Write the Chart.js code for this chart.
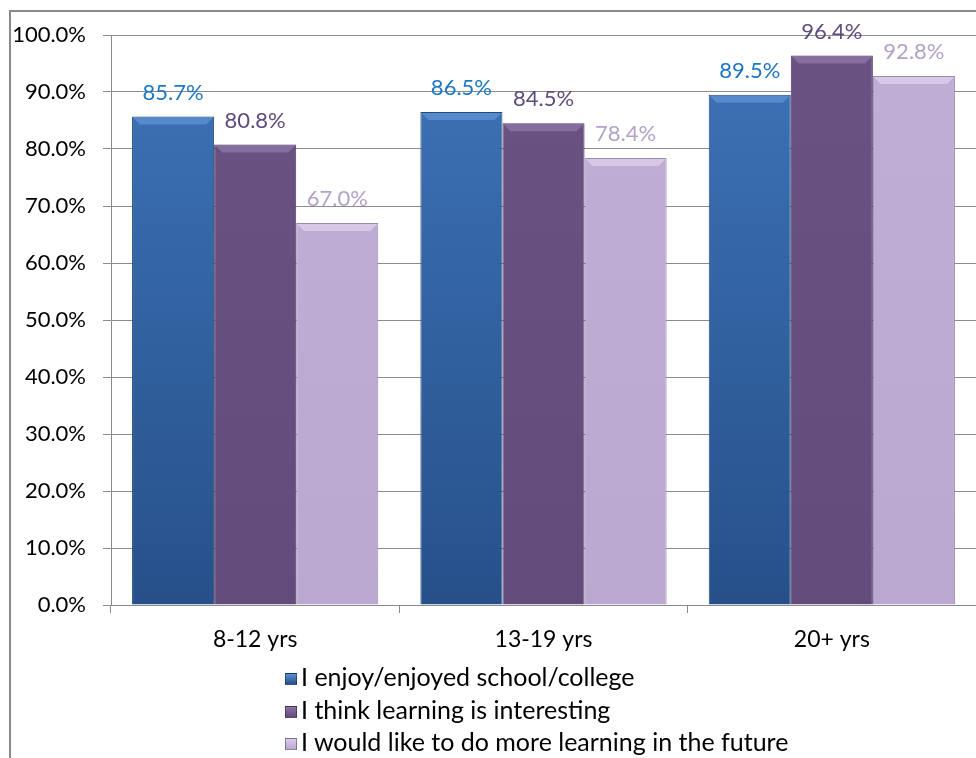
<!DOCTYPE html>
<html>
<head>
<meta charset="utf-8">
<script src="https://cdn.jsdelivr.net/npm/chart.js@4"></script>
<style>
    html, body { margin: 0; padding: 0; background: #fff; }
    body { width: 976px; height: 758px; position: relative; overflow: hidden; font-family: Lato, "Open Sans", sans-serif; }
    #frame { position: absolute; left: 9px; top: 10px; width: 1000px; height: 800px; border-left: 2px solid #8a8a8a; border-top: 2px solid #8a8a8a; }
    #chart { position: absolute; left: 0; top: 0; }
    #legend { position: absolute; left: 285px; top: 661px; }
    #legend div { height: 32.5px; line-height: 30px; font-size: 25px; color: #000; white-space: nowrap; }
    #legend span { display: inline-block; width: 12px; height: 12px; margin-right: 4px; vertical-align: 1px; border: 1px solid rgba(0,0,0,0.35); box-sizing: border-box; }
</style>
</head>
<body>
<div id="frame"></div>
<canvas id="chart" width="976" height="758"></canvas>
<div id="legend"></div>
<script>
const categories = ['8-12 yrs', '13-19 yrs', '20+ yrs'];
const seriesNames = [
    'I enjoy/enjoyed school/college',
    'I think learning is interesting',
    'I would like to do more learning in the future',
];
const enjoySchool = [85.7, 86.5, 89.5];
const learningInteresting = [80.8, 84.5, 96.4];
const moreLearning = [67.0, 78.4, 92.8];

// gradient top / bottom, label colour, top highlight
const palette = [
    { top: '#3d74b8', bottom: '#27508a', label: '#1c77c6', bevel: '#5b8fd2', edge: '#244a78' },
    { top: '#6a5283', bottom: '#634c7c', label: '#5f4b7c', bevel: '#8a72a5', edge: '#4f3d66' },
    { top: '#c0aed6', bottom: '#bba8d1', label: '#b3a2c8', bevel: '#dacdea', edge: '#9c8bb0' },
];

function vGrad(ctx, top, bottom) {
    const area = ctx.chart.chartArea;
    if (!area) {
        return top;
    }
    const g = ctx.chart.ctx.createLinearGradient(0, area.top, 0, area.bottom);
    g.addColorStop(0, top);
    g.addColorStop(1, bottom);
    return g;
}

const valueLabels = {
    id: 'valueLabels',
    afterDatasetsDraw(chart) {
        const c = chart.ctx;
        chart.data.datasets.forEach((ds, i) => {
            const meta = chart.getDatasetMeta(i);
            meta.data.forEach((bar, j) => {
                const w = bar.width;
                // bevel highlight on the bar top
                c.save();
                c.fillStyle = palette[i].bevel;
                c.globalAlpha = 0.85;
                c.beginPath();
                c.moveTo(bar.x - w / 2 + 1, bar.y + 1);
                c.lineTo(bar.x + w / 2 - 1, bar.y + 1);
                c.lineTo(bar.x + w / 2 - 8, bar.y + 8);
                c.lineTo(bar.x - w / 2 + 8, bar.y + 8);
                c.closePath();
                c.fill();
                c.restore();

                c.save();
                c.font = '22px Lato, "Open Sans", sans-serif';
                c.fillStyle = palette[i].label;
                c.textAlign = 'center';
                c.textBaseline = 'middle';
                c.fillText(ds.data[j].toFixed(1) + '%', bar.x, bar.y - 24);
                c.restore();
            });
        });
    },
};

const datasets = [enjoySchool, learningInteresting, moreLearning].map((values, i) => ({
    label: seriesNames[i],
    data: values,
    backgroundColor: (ctx) => vGrad(ctx, palette[i].top, palette[i].bottom),
    borderColor: palette[i].edge,
    borderWidth: 1,
    categoryPercentage: 0.854,
    barPercentage: 1,
}));

const chart = new Chart(document.getElementById('chart').getContext('2d'), {
    type: 'bar',
    data: { labels: categories, datasets },
    options: {
        responsive: false,
        devicePixelRatio: 1,
        animation: false,
        layout: { padding: { top: 35, left: 0, right: 0, bottom: 0 } },
        plugins: {
            legend: { display: false },
            tooltip: { enabled: false },
        },
        scales: {
            x: {
                afterFit(scale) { scale.height = 153; },
                grid: { offset: true, drawOnChartArea: false, drawTicks: true, tickLength: 8, color: '#8a8a8a' },
                border: { color: '#8a8a8a' },
                ticks: { color: '#000', padding: 13, font: { family: 'Lato', size: 23 } },
            },
            y: {
                min: 0,
                max: 100,
                afterFit(scale) { scale.width = 111; },
                grid: { color: '#8c8c8c', tickLength: 8 },
                border: { color: '#8a8a8a' },
                ticks: {
                    stepSize: 10,
                    color: '#000',
                    padding: 17,
                    font: { family: 'Lato', size: 22 },
                    callback: (v) => v.toFixed(1) + '%',
                },
            },
        },
    },
    plugins: [valueLabels],
});

const legend = document.getElementById('legend');
chart.data.datasets.forEach((ds, i) => {
    const row = document.createElement('div');
    const box = document.createElement('span');
    box.style.background = 'linear-gradient(' + palette[i].bevel + ', ' + palette[i].bottom + ')';
    row.appendChild(box);
    row.appendChild(document.createTextNode(ds.label));
    legend.appendChild(row);
});
</script>
</body>
</html>
